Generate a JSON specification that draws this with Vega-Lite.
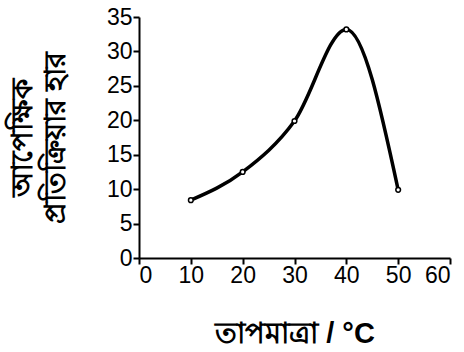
{
  "$schema": "https://vega.github.io/schema/vega-lite/v6.json",
  "width": 311,
  "height": 241,
  "autosize": "none",
  "padding": {"left": 139, "top": 17, "right": 14, "bottom": 94},
  "background": "white",
  "config": {"view": {"stroke": null}},
  "data": {"values": [
    {"t": 10, "r": 8.4},
    {"t": 20, "r": 12.5},
    {"t": 30, "r": 19.9},
    {"t": 40, "r": 33.2},
    {"t": 50, "r": 9.9}
  ]},
  "encoding": {
    "x": {"field": "t", "type": "quantitative", "scale": {"domain": [0, 60], "nice": false},
      "axis": {"values": [0,10,20,30,40,50,60], "grid": false, "domainColor": "black", "domainWidth": 2, "tickColor": "black", "tickWidth": 2, "tickSize": 6,
        "labelFont": "Liberation Sans", "labelFontSize": 23, "labelColor": "black", "labelPadding": 0,
        "title": "তাপমাত্রা / °C", "titleFontSize": 29, "titleFontWeight": "bold", "titleColor": "black", "titlePadding": 32}},
    "y": {"field": "r", "type": "quantitative", "scale": {"domain": [0, 35], "nice": false},
      "axis": {"values": [0,5,10,15,20,25,30,35], "grid": false, "domainColor": "black", "domainWidth": 2, "tickColor": "black", "tickWidth": 2, "tickSize": 6,
        "labelFont": "Liberation Sans", "labelFontSize": 23, "labelColor": "black", "labelPadding": 1,
        "title": ["আপেক্ষিক", "প্রতিক্রিয়ার হার"], "titleFontSize": 29, "titleFontWeight": "bold", "titleColor": "black", "titlePadding": 36, "titleLineHeight": 33}}
  },
  "layer": [
    {"mark": {"type": "line", "interpolate": "monotone", "color": "black", "strokeWidth": 3.5}},
    {"mark": {"type": "point", "filled": true, "fill": "white", "stroke": "black", "strokeWidth": 1.5, "size": 22, "opacity": 1}}
  ]
}
